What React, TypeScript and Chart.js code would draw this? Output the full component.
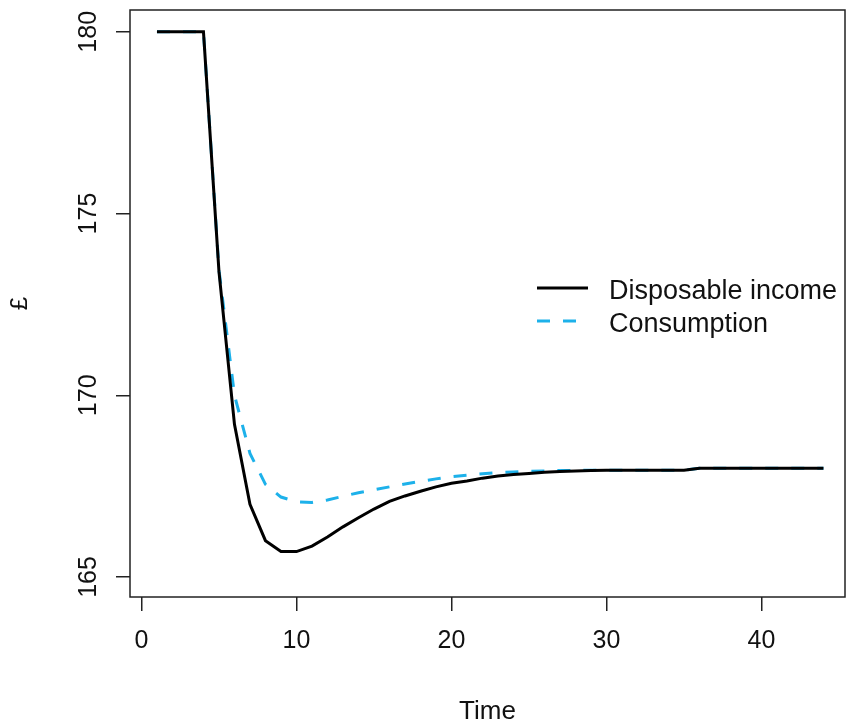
import React, { useEffect, useRef } from "react";
import { Chart, registerables } from "chart.js";

Chart.register(...registerables);

const time = [
  1, 2, 3, 4, 5, 6, 7, 8, 9, 10, 11, 12, 13, 14, 15, 16, 17, 18, 19, 20, 21, 22,
  23, 24, 25, 26, 27, 28, 29, 30, 31, 32, 33, 34, 35, 36, 37, 38, 39, 40, 41, 42, 43, 44,
];
const disposableIncome = [
  180, 180, 180, 180, 173.4, 169.2, 167.0, 166.0, 165.7, 165.7, 165.85, 166.1, 166.38,
  166.63, 166.87, 167.08, 167.23, 167.36, 167.48, 167.58, 167.64, 167.72, 167.78, 167.82,
  167.85, 167.88, 167.9, 167.92, 167.93, 167.94, 167.94, 167.94, 167.94, 167.94, 167.94,
  167.99, 167.99, 167.99, 167.99, 167.99, 167.99, 167.99, 167.99, 167.99,
];
const consumption = [
  180, 180, 180, 180, 173.45, 170.0, 168.4, 167.55, 167.2, 167.07, 167.05, 167.12, 167.22,
  167.32, 167.4, 167.48, 167.56, 167.63, 167.7, 167.76, 167.8, 167.84, 167.87, 167.89,
  167.91, 167.92, 167.93, 167.93, 167.94, 167.94, 167.94, 167.94, 167.94, 167.94, 167.94,
  167.99, 167.99, 167.99, 167.99, 167.99, 167.99, 167.99, 167.99, 167.99,
];
const xTicks = [0, 10, 20, 30, 40];
const yTicks = [165, 170, 175, 180];
const seriesNames = ["Disposable income", "Consumption"];
const xTitle = "Time";
const yTitle = "£";

const FONT = "'Liberation Sans', Arial, sans-serif";
const BLUE = "#1DB1EA";

const overlay = {
  id: "overlay",
  afterDraw(chart: any) {
    const { ctx, chartArea } = chart;
    const ys = chart.scales.y;
    ctx.save();
    // box
    ctx.strokeStyle = "#222";
    ctx.lineWidth = 1.5;
    ctx.strokeRect(chartArea.left, chartArea.top, chartArea.right - chartArea.left, chartArea.bottom - chartArea.top);
    // rotated y tick labels
    ctx.fillStyle = "#111";
    ctx.font = `25px ${FONT}`;
    ctx.textAlign = "center";
    ctx.textBaseline = "middle";
    yTicks.forEach((v) => {
      const py = ys.getPixelForValue(v);
      ctx.save();
      ctx.translate(89, py);
      ctx.rotate(-Math.PI / 2);
      ctx.fillText(String(v), 0, 0);
      ctx.restore();
    });
    // legend
    const ds = chart.data.datasets;
    const rows = [288, 321];
    ds.forEach((d: any, i: number) => {
      ctx.save();
      ctx.strokeStyle = d.borderColor;
      ctx.lineWidth = d.borderWidth;
      ctx.setLineDash(d.borderDash || []);
      ctx.beginPath();
      ctx.moveTo(537, rows[i]);
      ctx.lineTo(588, rows[i]);
      ctx.stroke();
      ctx.restore();
      ctx.fillStyle = "#111";
      ctx.font = `27px ${FONT}`;
      ctx.textAlign = "left";
      ctx.textBaseline = "middle";
      ctx.fillText(d.label, 609, rows[i] + 4);
    });
    ctx.restore();
  },
};

export default function App() {
  const ref = useRef<HTMLCanvasElement | null>(null);
  useEffect(() => {
    if (!ref.current) return;
    const chart = new Chart(ref.current, {
      type: "line",
      data: {
        datasets: [
          {
            label: seriesNames[0],
            data: time.map((t, i) => ({ x: t, y: disposableIncome[i] })),
            borderColor: "#000",
            borderWidth: 3,
            pointRadius: 0,
            tension: 0,
            fill: false,
          },
          {
            label: seriesNames[1],
            data: time.map((t, i) => ({ x: t, y: consumption[i] })),
            borderColor: BLUE,
            borderWidth: 3,
            borderDash: [13, 13],
            pointRadius: 0,
            tension: 0,
            fill: false,
          },
        ],
      },
      options: {
        animation: false,
        responsive: false,
        devicePixelRatio: 1,
        layout: { padding: { top: 10, right: 1, left: 0, bottom: 0 } },
        plugins: { legend: { display: false }, tooltip: { enabled: false } },
        scales: {
          x: {
            type: "linear",
            min: -0.74,
            max: 45.39,
            afterBuildTicks: (s: any) => {
              s.ticks = xTicks.map((v) => ({ value: v }));
            },
            afterFit: (s: any) => {
              s.height = 128;
            },
            border: { display: false },
            grid: { drawOnChartArea: false, drawTicks: true, tickLength: 14, color: "#222", lineWidth: 1.5 },
            ticks: {
              color: "#111",
              font: { family: FONT, size: 25 },
              padding: 15,
              maxRotation: 0,
              autoSkip: false,
            },
            title: {
              display: true,
              text: xTitle,
              color: "#111",
              font: { family: FONT, size: 26, lineHeight: 1 },
              padding: { top: 0, bottom: 0 },
            },
          },
          y: {
            type: "linear",
            min: 164.45,
            max: 180.6,
            afterBuildTicks: (s: any) => {
              s.ticks = yTicks.map((v) => ({ value: v }));
            },
            afterFit: (s: any) => {
              s.width = 130;
            },
            border: { display: false },
            grid: { drawOnChartArea: false, drawTicks: true, tickLength: 14, color: "#222", lineWidth: 1.5 },
            ticks: {
              display: true,
              color: "rgba(0,0,0,0)",
              font: { family: FONT, size: 1 },
            },
            title: {
              display: true,
              text: yTitle,
              color: "#111",
              font: { family: FONT, size: 24, lineHeight: 1 },
              padding: { top: 8, bottom: 0 },
            },
          },
        },
      },
      plugins: [overlay],
    });
    return () => chart.destroy();
  }, []);
  return (
    <div style={{ position: "absolute", left: 0, top: 0, width: 846, height: 725, background: "#fff" }}>
      <canvas ref={ref} width={846} height={725} style={{ width: 846, height: 725 }} />
    </div>
  );
}
